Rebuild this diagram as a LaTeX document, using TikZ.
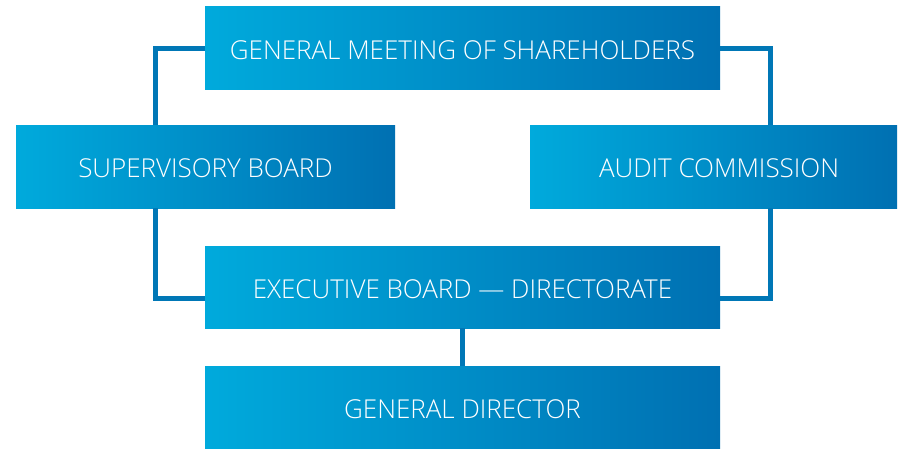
\documentclass[tikz,border=0pt]{standalone}
\usepackage{fontspec}
\setmainfont{Open Sans}[UprightFont={* Light}]
\usepackage{tikz}
\usetikzlibrary{positioning}

\definecolor{boxlight}{HTML}{00AADC}
\definecolor{boxdark}{HTML}{0070B2}
\definecolor{linkblue}{HTML}{0077B6}

\begin{document}
\begin{tikzpicture}[x=1pt, y=-1pt,
  box/.style={minimum height=83pt, inner sep=0pt, text=white,
    text height=22pt, text depth=0pt,
    font=\fontsize{26}{29}\selectfont, left color=boxlight, right color=boxdark},
  link/.style={draw=linkblue, line width=5pt}]
  \useasboundingbox (0,0) rectangle (898,450);

  \node[box, minimum width=515pt] (gms) at (462.5,48) {GENERAL MEETING OF SHAREHOLDERS};
  \node[box, minimum width=379pt] (sb)  at (205.5,166.5) {SUPERVISORY BOARD};
  \node[box, minimum width=367pt] (ac)  at (713.5,166.5) {\hspace*{11pt}AUDIT COMMISSION};
  \node[box, minimum width=515pt, minimum height=82pt] (eb) at (462.5,287) {EXECUTIVE BOARD — DIRECTORATE};
  \node[box, minimum width=515pt, minimum height=82pt] (gd) at (462.5,407) {GENERAL DIRECTOR};

  \path[link]
  (gms.west) -| ([xshift=-50.5pt]sb.north)
  (gms.east) -| ([xshift=56.5pt]ac.north)
  ([xshift=-50.5pt]sb.south) |- ([yshift=-11pt]eb.west)
  ([xshift=56.5pt]ac.south) |- ([yshift=-11pt]eb.east)
  (eb.south) -- (gd.north);
\end{tikzpicture}
\end{document}
